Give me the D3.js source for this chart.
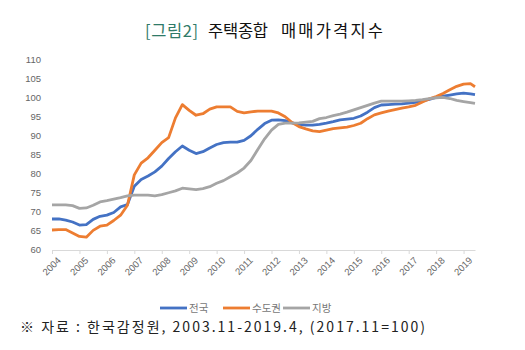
<!DOCTYPE html>
<html>
<head>
<meta charset="utf-8">
<script src="https://cdn.jsdelivr.net/npm/d3@7"></script>
<style>
  body { margin: 0; background: #fff; }
  svg { display: block; font-family: "Noto Sans CJK KR", "Noto Sans", sans-serif; }
</style>
</head>
<body>
<svg id="chart" width="525" height="350"></svg>
<script>
// quarterly readings, 2003.11 .. 2019.02, plus 2019.04
const dates = [
  "2003.11","2004.02","2004.05","2004.08","2004.11","2005.02","2005.05","2005.08",
  "2005.11","2006.02","2006.05","2006.08","2006.11","2007.02","2007.05","2007.08",
  "2007.11","2008.02","2008.05","2008.08","2008.11","2009.02","2009.05","2009.08",
  "2009.11","2010.02","2010.05","2010.08","2010.11","2011.02","2011.05","2011.08",
  "2011.11","2012.02","2012.05","2012.08","2012.11","2013.02","2013.05","2013.08",
  "2013.11","2014.02","2014.05","2014.08","2014.11","2015.02","2015.05","2015.08",
  "2015.11","2016.02","2016.05","2016.08","2016.11","2017.02","2017.05","2017.08",
  "2017.11","2018.02","2018.05","2018.08","2018.11","2019.02","2019.04"
];
const national = [
  67.9, 67.9, 67.6, 67.1, 66.3, 66.4, 67.8, 68.6,
  68.9, 69.6, 71.1, 71.7, 76.5, 78.3, 79.2, 80.3,
  81.8, 83.8, 85.6, 87.1, 86.0, 85.1, 85.6, 86.6,
  87.5, 88.0, 88.1, 88.1, 88.6, 89.8, 91.5, 93.0,
  93.9, 94.0, 93.8, 93.2, 92.8, 92.6, 92.6, 92.8,
  93.1, 93.5, 94.0, 94.2, 94.4, 95.0, 96.0, 97.2,
  97.9, 98.0, 98.1, 98.2, 98.4, 98.6, 99.0, 99.4,
  99.9, 100.2, 100.5, 100.8, 101.0, 100.8, 100.6
];
const capital = [
  65.0, 65.1, 65.1, 64.2, 63.3, 63.1, 64.9, 66.0,
  66.3, 67.5, 68.9, 71.5, 79.5, 82.6, 84.0, 86.0,
  88.0, 89.3, 94.5, 98.0, 96.5, 95.2, 95.6, 96.8,
  97.4, 97.4, 97.4, 96.2, 95.8, 96.1, 96.3, 96.3,
  96.3, 95.8, 94.8, 93.3, 92.2, 91.6, 91.1, 90.9,
  91.3, 91.7, 91.9, 92.1, 92.5, 93.1, 94.3, 95.3,
  95.8, 96.3, 96.7, 97.1, 97.4, 97.8, 98.7, 99.5,
  100.1, 100.9, 101.9, 102.8, 103.4, 103.5, 102.7
];
const regional = [
  71.6, 71.6, 71.6, 71.4, 70.7, 70.8, 71.5, 72.4,
  72.7, 73.1, 73.5, 74.0, 74.2, 74.2, 74.2, 74.0,
  74.3, 74.8, 75.3, 76.0, 75.8, 75.6, 75.9, 76.4,
  77.3, 78.0, 79.0, 80.0, 81.3, 83.3, 86.2, 89.0,
  91.3, 92.8, 93.1, 93.1, 93.2, 93.4, 93.6, 94.3,
  94.6, 95.1, 95.5, 96.0, 96.6, 97.2, 97.8, 98.4,
  98.9, 98.9, 98.9, 98.9, 99.0, 99.1, 99.3, 99.6,
  99.8, 99.9, 99.6, 99.1, 98.8, 98.5, 98.3
];
const seriesNames = ["전국", "수도권", "지방"];
const seriesColors = ["#4472c4", "#ed7d31", "#a5a5a5"];
const yearLabels = ["2004","2005","2006","2007","2008","2009","2010","2011",
  "2012","2013","2014","2015","2016","2017","2018","2019"];
const yTicks = [60, 65, 70, 75, 80, 85, 90, 95, 100, 105, 110];

const d3 = window.d3;
const svg = d3.select("#chart");

// months since 2003.11
const monthIdx = (s) => {
  const [y, m] = s.split(".").map(Number);
  return (y - 2003) * 12 + (m - 11);
};

const x = d3.scaleLinear().domain([0, monthIdx("2019.04")]).range([52, 475]);
const y = d3.scaleLinear().domain([60, 110]).range([249, 59]);

// title, three pieces spread like the original
svg.append("text")
  .attr("x", 145).attr("y", 37)
  .attr("font-size", 16.5)
  .attr("fill", "#2f7a68")
  .attr("textLength", 53)
  .text("[그림2]");
svg.append("text")
  .attr("x", 208).attr("y", 37)
  .attr("font-size", 16.5)
  .attr("fill", "#111")
  .attr("textLength", 60)
  .text("주택종합");
svg.append("text")
  .attr("x", 281).attr("y", 37)
  .attr("font-size", 16.5)
  .attr("fill", "#111")
  .attr("textLength", 102)
  .text("매매가격지수");

// y axis (labels only)
const yAxis = svg.append("g")
  .attr("transform", "translate(41,0)")
  .call(d3.axisLeft(y).tickValues(yTicks).tickSize(0).tickPadding(0));
yAxis.select(".domain").remove();
yAxis.selectAll("text")
  .attr("fill", "#666")
  .attr("font-size", 9.5)
  .attr("font-family", "Arial, 'Liberation Sans', sans-serif");

// x axis
const xAxis = svg.append("g")
  .attr("transform", "translate(0,250)")
  .call(d3.axisBottom(x)
    .tickValues(yearLabels.map((_, i) => i * 12))
    .tickFormat((d, i) => yearLabels[i])
    .tickSize(4)
    .tickSizeOuter(0));
xAxis.select(".domain").attr("stroke", "#d9d9d9");
xAxis.selectAll(".tick line").attr("stroke", "#d9d9d9");
xAxis.selectAll("text")
  .attr("fill", "#666")
  .attr("font-size", 9.5)
  .attr("font-family", "Arial, 'Liberation Sans', sans-serif")
  .attr("text-anchor", "end")
  .attr("dy", 0)
  .attr("transform", "translate(4,6) rotate(-45)");

// lines
const line = d3.line()
  .x((d, i) => x(monthIdx(dates[i])))
  .y((d) => y(d));

[national, capital, regional].forEach((vals, k) => {
  svg.append("path")
    .datum(vals)
    .attr("fill", "none")
    .attr("stroke", seriesColors[k])
    .attr("stroke-width", 2.8)
    .attr("stroke-linejoin", "round")
    .attr("d", line);
});

// legend
const legendX = [160, 223, 283];
seriesNames.forEach((name, k) => {
  const g = svg.append("g").attr("transform", `translate(${legendX[k]},308)`);
  g.append("line")
    .attr("x1", 0).attr("x2", 27)
    .attr("stroke", seriesColors[k])
    .attr("stroke-width", 2.8);
  g.append("text")
    .attr("x", 29)
    .attr("y", 4)
    .attr("font-size", 10.5)
    .attr("fill", "#777")
    .text(name);
});

// source note
svg.append("text")
  .attr("x", 20)
  .attr("y", 332)
  .attr("font-size", 14)
  .attr("fill", "#222")
  .attr("textLength", 405)
  .attr("lengthAdjust", "spacing")
  .text("※ 자료 : 한국감정원, 2003.11-2019.4, (2017.11=100)");
</script>
</body>
</html>
